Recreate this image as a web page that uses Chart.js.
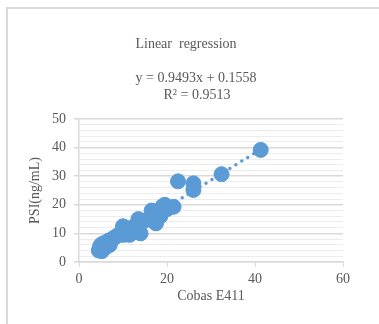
<!DOCTYPE html>
<html>
<head>
<meta charset="utf-8">
<script src="https://cdn.jsdelivr.net/npm/chart.js@4.4.1/dist/chart.umd.min.js"></script>
<style>
  html, body { margin: 0; padding: 0; background: #fff; }
  #wrap { position: relative; width: 379px; height: 324px; overflow: hidden; }
  #frame { position: absolute; left: 6px; top: 7px; width: 400px; height: 400px;
           border-left: 2px solid #d9d9d9; border-top: 2px solid #d9d9d9; }
  canvas { position: absolute; left: 0; top: 0; }
</style>
</head>
<body>
<div id="wrap">
  <div id="frame"></div>
  <canvas id="chart" width="379" height="324"></canvas>
</div>
<script>
// данные
const cobasX = [4.5, 4.8, 5, 5.2, 5.5, 6, 6.3, 6.8, 7, 7.5, 8, 8.5, 9, 10, 10.2, 11, 11.5, 12,
                13, 13.5, 14, 14, 15, 16.5, 17, 17.5, 18, 18.5, 19, 19.5, 20, 21.5, 22.5, 26, 26, 32.4, 41.3];
const psiY   = [4, 5.5, 6, 3.8, 6.5, 5, 7, 7.5, 6, 8, 8.5, 9, 9.5, 12.5, 9.5, 11, 9.5, 12,
                13, 15, 10, 14, 14.5, 18, 15, 13.5, 17, 16, 19.5, 20, 18.5, 19.3, 28.2, 27.5, 25.2, 30.7, 39.2];
const slope = 0.9493;
const intercept = 0.1558;
const r2 = 0.9513;
const titleText = 'Linear  regression';
const xTitle = 'Cobas E411';
const yTitle = 'PSI(ng/mL)';

const FONT = "'Liberation Serif', 'Times New Roman', serif";
const GREY = '#595959';

const points = cobasX.map((x, i) => ({ x, y: psiY[i] }));
const xMin = Math.min(...cobasX), xMax = Math.max(...cobasX);
const trend = [xMin, xMax].map(x => ({ x, y: slope * x + intercept }));

// подписи: заголовок и уравнение тренда
const labelsPlugin = {
  id: 'labels',
  afterDraw(chart) {
    const c = chart.ctx;
    c.save();
    c.fillStyle = GREY;
    c.textAlign = 'center';
    c.textBaseline = 'middle';
    c.font = '14px ' + FONT;
    c.fillText(titleText, 186, 44);
    c.fillText(`y = ${slope}x + ${intercept}`, 196, 78);
    c.fillText(`R² = ${r2}`, 197, 95);
    c.restore();
  }
};

new Chart(document.getElementById('chart'), {
  type: 'scatter',
  data: {
    datasets: [
      {
        type: 'line',
        data: trend,
        borderColor: '#5b9bd5',
        borderWidth: 3.5,
        borderDash: [0, 7],
        borderCapStyle: 'round',
        pointRadius: 0,
        fill: false,
        order: 0
      },
      {
        data: points,
        backgroundColor: '#5b9bd5',
        borderColor: '#5b9bd5',
        pointRadius: 7.5,
        order: 1
      }
    ]
  },
  options: {
    responsive: false,
    animation: false,
    layout: { padding: { left: 0, top: 119, right: 36, bottom: 0 } },
    plugins: { legend: { display: false }, tooltip: { enabled: false }, title: { display: false } },
    scales: {
      x: {
        type: 'linear', min: 0, max: 60,
        afterFit: s => { s.height = 62; },
        ticks: { stepSize: 20, color: GREY, font: { family: FONT, size: 14 }, padding: 4, maxRotation: 0 },
        grid: { drawOnChartArea: false, drawTicks: true, tickLength: 5, tickColor: '#d9d9d9' },
        border: { color: '#d9d9d9', width: 1.5 },
        title: { display: true, text: xTitle, color: GREY, font: { family: FONT, size: 14 }, padding: { top: 0, bottom: 19 } }
      },
      y: {
        min: 0, max: 50,
        afterFit: s => { s.width = 79; },
        ticks: {
          stepSize: 2, autoSkip: false, color: GREY, font: { family: FONT, size: 14 }, padding: 8,
          callback: v => (v % 10 === 0 ? v : '')
        },
        grid: {
          tickLength: 5,
          color: ctx => (ctx.tick && ctx.tick.value % 10 === 0 ? '#d9d9d9' : '#ececec'),
          tickColor: ctx => (ctx.tick && ctx.tick.value % 10 === 0 ? '#d9d9d9' : 'rgba(0,0,0,0)'),
          lineWidth: ctx => (ctx.tick && ctx.tick.value % 10 === 0 ? 1.5 : 1)
        },
        border: { color: '#d9d9d9', width: 1.5 },
        title: { display: true, text: yTitle, color: GREY, font: { family: FONT, size: 14 }, padding: { top: 27, bottom: 0 } }
      }
    }
  },
  plugins: [labelsPlugin]
});
</script>
</body>
</html>
